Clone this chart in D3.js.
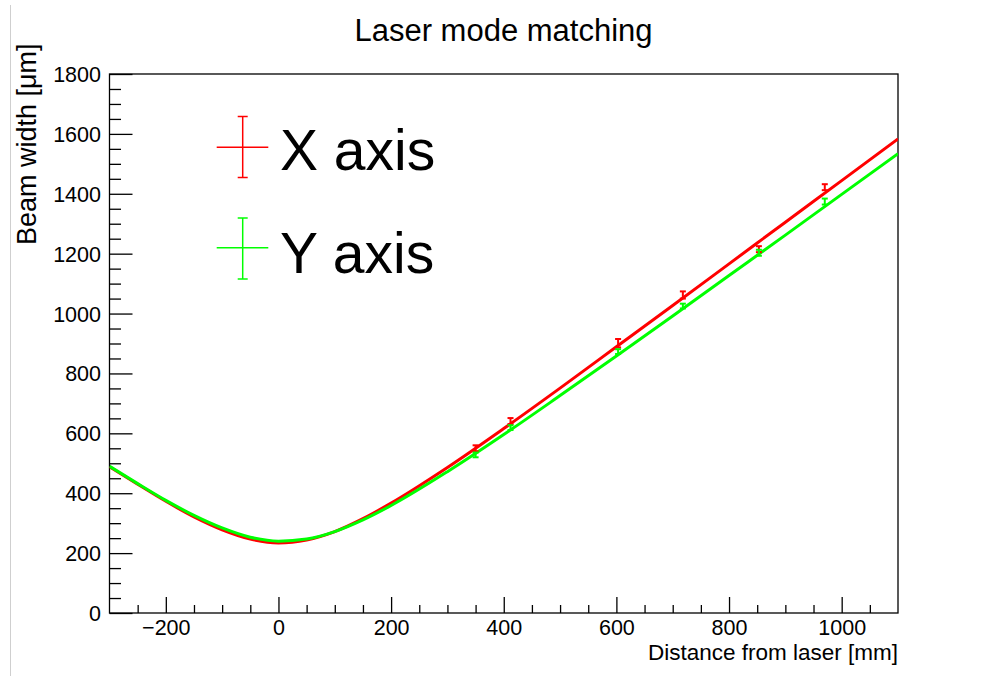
<!DOCTYPE html>
<html>
<head>
<meta charset="utf-8">
<script src="https://cdn.jsdelivr.net/npm/d3@7"></script>
<style>
  html, body { margin: 0; padding: 0; background: #ffffff; }
  svg { display: block; }
  text { font-family: "Liberation Sans", Arial, Helvetica, sans-serif; fill: #000; }
</style>
</head>
<body>
<svg id="chart" width="983" height="676"></svg>
<script>
// ---- data ----
const titleText = "Laser mode matching";
const xTitle = "Distance from laser [mm]";
const yTitle = "Beam width [\u03bcm]";
const seriesNames = ["X axis", "Y axis"];
const seriesColors = ["#ff0000", "#00ff00"];

// measured positions (mm) and beam widths (um)
const distance = [350, 412, 603, 718, 853, 970];
const widthX = [550, 641, 901, 1062, 1215, 1422];
const errX = [10, 10, 14, 12, 10, 10];
const widthY = [528, 619, 873, 1025, 1203, 1374];
const errY = [8, 8, 8, 8, 10, 10];

// fitted curves
const fitZ = [-300, -250, -200, -150, -100, -50, 0, 50, 100, 150, 200, 300, 400, 500, 600, 700, 800, 900, 1000, 1100];
const fitX = [488, 430, 373, 321, 278, 247, 234, 244, 272, 315, 367, 486, 616, 751, 889, 1027, 1166, 1305, 1444, 1583];
const fitY = [490, 432, 376, 326, 284, 253, 240, 247, 272, 311, 359, 472, 596, 726, 858, 992, 1127, 1262, 1398, 1534];

const xDomain = [-300, 1100];
const yDomain = [0, 1800];
const xMajorTicks = [-200, 0, 200, 400, 600, 800, 1000];
const xMinorTicks = [-250, -150, -100, -50, 50, 100, 150, 250, 300, 350, 450, 500, 550, 650, 700, 750, 850, 900, 950, 1050];
const yMajorTicks = [0, 200, 400, 600, 800, 1000, 1200, 1400, 1600, 1800];
const yMinorTicks = [50, 100, 150, 250, 300, 350, 450, 500, 550, 650, 700, 750, 850, 900, 950, 1050, 1100, 1150, 1250, 1300, 1350, 1450, 1500, 1550, 1650, 1700, 1750];

// ---- layout ----
const svg = d3.select("#chart");
const frame = { left: 109.5, right: 898, top: 74, bottom: 613 };

const x = d3.scaleLinear().domain(xDomain).range([frame.left, frame.right]);
const y = d3.scaleLinear().domain(yDomain).range([frame.bottom, frame.top]);

// faint canvas edge line at far left
svg.append("line")
  .attr("x1", 10.5).attr("x2", 10.5).attr("y1", 5).attr("y2", 676)
  .attr("stroke", "#cfcfcf").attr("stroke-width", 1);

// title
svg.append("text")
  .attr("x", 503.5).attr("y", 41)
  .attr("text-anchor", "middle")
  .style("font-size", "31px")
  .text(titleText);

// clip for curves
svg.append("clipPath").attr("id", "clip")
  .append("rect")
  .attr("x", frame.left).attr("y", frame.top)
  .attr("width", frame.right - frame.left).attr("height", frame.bottom - frame.top);

// frame box
svg.append("rect")
  .attr("x", frame.left).attr("y", frame.top)
  .attr("width", frame.right - frame.left).attr("height", frame.bottom - frame.top)
  .attr("fill", "none").attr("stroke", "#000").attr("stroke-width", 1.3);

// x axis (ticks pointing inward)
const fmt = d => (d < 0 ? "\u2212" + Math.abs(d) : String(d));
const xAxisMajor = d3.axisBottom(x).tickValues(xMajorTicks).tickSize(-16).tickFormat(fmt);
const gx = svg.append("g").attr("transform", `translate(0,${frame.bottom})`).call(xAxisMajor);
gx.select(".domain").remove();
gx.selectAll(".tick line").attr("stroke", "#000").attr("stroke-width", 1.3);
gx.selectAll(".tick text").style("font-size", "21.5px").attr("dy", null).attr("y", 21.5);
const xAxisMinor = d3.axisBottom(x).tickValues(xMinorTicks).tickSize(-8).tickFormat("");
const gxm = svg.append("g").attr("transform", `translate(0,${frame.bottom})`).call(xAxisMinor);
gxm.select(".domain").remove();
gxm.selectAll(".tick line").attr("stroke", "#000").attr("stroke-width", 1.3);

// y axis
const yAxisMajor = d3.axisLeft(y).tickValues(yMajorTicks).tickSize(-23).tickFormat(d3.format("d"));
const gy = svg.append("g").attr("transform", `translate(${frame.left},0)`).call(yAxisMajor);
gy.select(".domain").remove();
gy.selectAll(".tick line").attr("stroke", "#000").attr("stroke-width", 1.3);
gy.selectAll(".tick text").style("font-size", "21.5px").attr("x", -8.5).attr("dy", "0.35em");
const yAxisMinor = d3.axisLeft(y).tickValues(yMinorTicks).tickSize(-11.5).tickFormat("");
const gym = svg.append("g").attr("transform", `translate(${frame.left},0)`).call(yAxisMinor);
gym.select(".domain").remove();
gym.selectAll(".tick line").attr("stroke", "#000").attr("stroke-width", 1.3);

// axis titles
svg.append("text")
  .attr("x", frame.right).attr("y", 659.5)
  .attr("text-anchor", "end")
  .style("font-size", "22.5px")
  .text(xTitle);
svg.append("text")
  .attr("transform", `translate(36,245) rotate(-90)`)
  .attr("text-anchor", "start")
  .style("font-size", "27px")
  .text(yTitle);

// fit curves
const plot = svg.append("g").attr("clip-path", "url(#clip)");
const fits = [fitX, fitY];
fits.forEach((vals, i) => {
  const pts = fitZ.map((z, k) => [z, vals[k]]);
  plot.append("path")
    .datum(pts)
    .attr("fill", "none")
    .attr("stroke", seriesColors[i])
    .attr("stroke-width", 3)
    .attr("d", d3.line().x(d => x(d[0])).y(d => y(d[1])).curve(d3.curveMonotoneX));
});

// data points with error bars
const series = [[widthX, errX], [widthY, errY]];
series.forEach(([vals, errs], i) => {
  const g = svg.append("g").attr("stroke", seriesColors[i]).attr("stroke-width", 2);
  distance.forEach((z, k) => {
    const cx = x(z), y1 = y(vals[k] - errs[k]), y2 = y(vals[k] + errs[k]);
    g.append("line").attr("x1", cx).attr("x2", cx).attr("y1", y1).attr("y2", y2);
    g.append("line").attr("x1", cx - 3).attr("x2", cx + 3).attr("y1", y1).attr("y2", y1);
    g.append("line").attr("x1", cx - 3).attr("x2", cx + 3).attr("y1", y2).attr("y2", y2);
  });
});

// legend
const legendRows = [
  { cy: 147.3, top: 116.5, bottom: 177.5, textY: 169.5 },
  { cy: 247.7, top: 218, bottom: 279, textY: 273 }
];
legendRows.forEach((r, i) => {
  const g = svg.append("g").attr("stroke", seriesColors[i]).attr("stroke-width", 1.5);
  const lx1 = 216.7, lx2 = 268.3, cx = 242.7;
  g.append("line").attr("x1", lx1).attr("x2", lx2).attr("y1", r.cy).attr("y2", r.cy);
  g.append("line").attr("x1", cx).attr("x2", cx).attr("y1", r.top).attr("y2", r.bottom);
  g.append("line").attr("x1", cx - 5).attr("x2", cx + 5).attr("y1", r.top).attr("y2", r.top);
  g.append("line").attr("x1", cx - 5).attr("x2", cx + 5).attr("y1", r.bottom).attr("y2", r.bottom);
  svg.append("text")
    .attr("x", 280).attr("y", r.textY)
    .style("font-size", "57px")
    .text(seriesNames[i]);
});
</script>
</body>
</html>
